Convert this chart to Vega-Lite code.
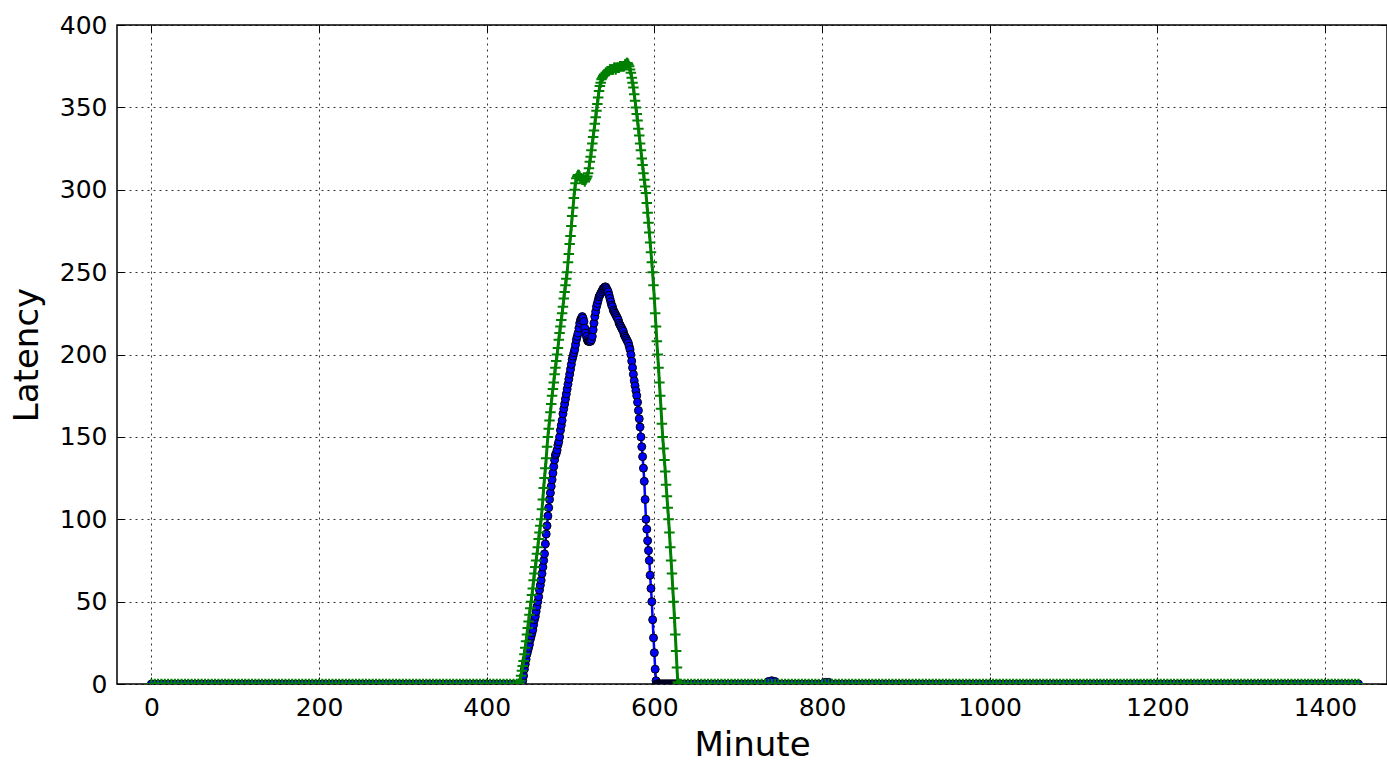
{
"$schema": "https://vega.github.io/schema/vega-lite/v6.json",
"width": 1270, "height": 659,
"autosize": {"type": "none"},
"padding": {"left": 117, "top": 25, "right": 0, "bottom": 78},
"background": "white",
"config": {
  "view": {"stroke": "black", "strokeWidth": 1.5},
  "axis": {"domain": false, "tickColor": "black", "tickSize": -7, "tickWidth": 1, "labelFont": "DejaVu Sans", "labelFontSize": 25, "labelColor": "black", "titleFont": "DejaVu Sans", "titleFontSize": 34, "titleFontWeight": "normal", "titleColor": "black", "gridColor": "black", "gridDash": [2, 4], "gridOpacity": 0.8, "gridWidth": 1, "labelOverlap": false, "labelFlush": false}
},
"data": {"values": [
{"m":0,"g":0,"b":0},{"m":4,"g":0,"b":0},{"m":8,"g":0,"b":0},{"m":12,"g":0,"b":0},{"m":16,"g":0,"b":0},{"m":20,"g":0,"b":0},{"m":24,"g":0,"b":0},{"m":28,"g":0,"b":0},{"m":32,"g":0,"b":0},{"m":36,"g":0,"b":0},
{"m":40,"g":0,"b":0},{"m":44,"g":0,"b":0},{"m":48,"g":0,"b":0},{"m":52,"g":0,"b":0},{"m":56,"g":0,"b":0},{"m":60,"g":0,"b":0},{"m":64,"g":0,"b":0},{"m":68,"g":0,"b":0},{"m":72,"g":0,"b":0},{"m":76,"g":0,"b":0},
{"m":80,"g":0,"b":0},{"m":84,"g":0,"b":0},{"m":88,"g":0,"b":0},{"m":92,"g":0,"b":0},{"m":96,"g":0,"b":0},{"m":100,"g":0,"b":0},{"m":104,"g":0,"b":0},{"m":108,"g":0,"b":0},{"m":112,"g":0,"b":0},{"m":116,"g":0,"b":0},
{"m":120,"g":0,"b":0},{"m":124,"g":0,"b":0},{"m":128,"g":0,"b":0},{"m":132,"g":0,"b":0},{"m":136,"g":0,"b":0},{"m":140,"g":0,"b":0},{"m":144,"g":0,"b":0},{"m":148,"g":0,"b":0},{"m":152,"g":0,"b":0},{"m":156,"g":0,"b":0},
{"m":160,"g":0,"b":0},{"m":164,"g":0,"b":0},{"m":168,"g":0,"b":0},{"m":172,"g":0,"b":0},{"m":176,"g":0,"b":0},{"m":180,"g":0,"b":0},{"m":184,"g":0,"b":0},{"m":188,"g":0,"b":0},{"m":192,"g":0,"b":0},{"m":196,"g":0,"b":0},
{"m":200,"g":0,"b":0},{"m":204,"g":0,"b":0},{"m":208,"g":0,"b":0},{"m":212,"g":0,"b":0},{"m":216,"g":0,"b":0},{"m":220,"g":0,"b":0},{"m":224,"g":0,"b":0},{"m":228,"g":0,"b":0},{"m":232,"g":0,"b":0},{"m":236,"g":0,"b":0},
{"m":240,"g":0,"b":0},{"m":244,"g":0,"b":0},{"m":248,"g":0,"b":0},{"m":252,"g":0,"b":0},{"m":256,"g":0,"b":0},{"m":260,"g":0,"b":0},{"m":264,"g":0,"b":0},{"m":268,"g":0,"b":0},{"m":272,"g":0,"b":0},{"m":276,"g":0,"b":0},
{"m":280,"g":0,"b":0},{"m":284,"g":0,"b":0},{"m":288,"g":0,"b":0},{"m":292,"g":0,"b":0},{"m":296,"g":0,"b":0},{"m":300,"g":0,"b":0},{"m":304,"g":0,"b":0},{"m":308,"g":0,"b":0},{"m":312,"g":0,"b":0},{"m":316,"g":0,"b":0},
{"m":320,"g":0,"b":0},{"m":324,"g":0,"b":0},{"m":328,"g":0,"b":0},{"m":332,"g":0,"b":0},{"m":336,"g":0,"b":0},{"m":340,"g":0,"b":0},{"m":344,"g":0,"b":0},{"m":348,"g":0,"b":0},{"m":352,"g":0,"b":0},{"m":356,"g":0,"b":0},
{"m":360,"g":0,"b":0},{"m":364,"g":0,"b":0},{"m":368,"g":0,"b":0},{"m":372,"g":0,"b":0},{"m":376,"g":0,"b":0},{"m":380,"g":0,"b":0},{"m":384,"g":0,"b":0},{"m":388,"g":0,"b":0},{"m":392,"g":0,"b":0},{"m":396,"g":0,"b":0},
{"m":400,"g":0,"b":0},{"m":404,"g":0,"b":0},{"m":408,"g":0,"b":0},{"m":412,"g":0,"b":0},{"m":416,"g":0,"b":0},{"m":420,"g":0,"b":0},{"m":424,"g":0,"b":0},{"m":428,"g":0,"b":0},{"m":432,"g":0,"b":0},{"m":436,"g":0,"b":0},
{"m":438,"g":0,"b":0},{"m":439,"g":0.5,"b":0},{"m":440,"g":2,"b":0},{"m":441,"g":5,"b":0},{"m":442,"g":8,"b":1},{"m":443,"g":11,"b":2},{"m":444,"g":14,"b":5},{"m":445,"g":18,"b":9},{"m":446,"g":22,"b":12},{"m":447,"g":26,"b":15},
{"m":448,"g":30,"b":18},{"m":449,"g":34,"b":20},{"m":450,"g":38,"b":22},{"m":451,"g":42,"b":24},{"m":452,"g":46,"b":27},{"m":453,"g":50,"b":29},{"m":454,"g":54,"b":31},{"m":455,"g":58,"b":33},{"m":456,"g":63,"b":36},{"m":457,"g":67,"b":39},
{"m":458,"g":71,"b":41},{"m":459,"g":75,"b":44},{"m":460,"g":79,"b":47},{"m":461,"g":83,"b":50},{"m":462,"g":88,"b":53},{"m":463,"g":92,"b":57},{"m":464,"g":96,"b":60},{"m":465,"g":100,"b":63},{"m":466,"g":106,"b":67},{"m":467,"g":112,"b":71},
{"m":468,"g":119,"b":75},{"m":469,"g":125,"b":79},{"m":470,"g":131,"b":85},{"m":471,"g":137,"b":91},{"m":472,"g":144,"b":96},{"m":473,"g":150,"b":102},{"m":474,"g":155,"b":107},{"m":475,"g":160,"b":112},{"m":476,"g":165,"b":116},{"m":477,"g":170,"b":120},
{"m":478,"g":175,"b":124},{"m":479,"g":179,"b":128},{"m":480,"g":183,"b":132},{"m":481,"g":188,"b":136},{"m":482,"g":192,"b":139},{"m":483,"g":196,"b":140},{"m":484,"g":200,"b":142},{"m":485,"g":204,"b":145},{"m":486,"g":209,"b":147},{"m":487,"g":213,"b":150},
{"m":488,"g":217,"b":154},{"m":489,"g":221,"b":157},{"m":490,"g":225,"b":160},{"m":491,"g":229,"b":164},{"m":492,"g":234,"b":167},{"m":493,"g":238,"b":170},{"m":494,"g":242,"b":173},{"m":495,"g":246,"b":176},{"m":496,"g":250,"b":179},{"m":497,"g":256,"b":182},
{"m":498,"g":261,"b":185},{"m":499,"g":267,"b":188},{"m":500,"g":272,"b":191},{"m":501,"g":278,"b":194},{"m":502,"g":284,"b":197},{"m":503,"g":289,"b":199},{"m":504,"g":295,"b":201},{"m":505,"g":300,"b":203},{"m":506,"g":304,"b":206},{"m":507,"g":307,"b":209},
{"m":508,"g":308,"b":211},{"m":509,"g":309,"b":213},{"m":510,"g":309,"b":216},{"m":511,"g":308,"b":219},{"m":512,"g":307,"b":221},{"m":513,"g":307,"b":222},{"m":514,"g":306,"b":223},{"m":515,"g":306,"b":222},{"m":516,"g":306,"b":220},{"m":517,"g":305,"b":216},
{"m":518,"g":306,"b":213},{"m":519,"g":307,"b":211},{"m":520,"g":308,"b":209},{"m":521,"g":310,"b":208},{"m":522,"g":313,"b":208},{"m":523,"g":317,"b":208},{"m":524,"g":320,"b":208},{"m":525,"g":324,"b":209},{"m":526,"g":328,"b":211},{"m":527,"g":332,"b":215},
{"m":528,"g":336,"b":219},{"m":529,"g":340,"b":223},{"m":530,"g":344,"b":226},{"m":531,"g":348,"b":229},{"m":532,"g":352,"b":231},{"m":533,"g":356,"b":233},{"m":534,"g":360,"b":235},{"m":535,"g":363,"b":236},{"m":536,"g":365,"b":237},{"m":537,"g":367,"b":238},
{"m":538,"g":368,"b":239},{"m":539,"g":369,"b":240},{"m":540,"g":370,"b":240},{"m":541,"g":370,"b":241},{"m":542,"g":371,"b":241},{"m":543,"g":371,"b":240},{"m":544,"g":372,"b":239},{"m":545,"g":372,"b":238},{"m":546,"g":372,"b":236},{"m":547,"g":373,"b":234},
{"m":548,"g":373,"b":232},{"m":549,"g":373,"b":230},{"m":550,"g":373,"b":229},{"m":551,"g":373,"b":227},{"m":552,"g":374,"b":226},{"m":553,"g":374,"b":225},{"m":554,"g":373,"b":224},{"m":555,"g":374,"b":223},{"m":556,"g":374,"b":222},{"m":557,"g":374,"b":221},
{"m":558,"g":374,"b":219},{"m":559,"g":375,"b":218},{"m":560,"g":375,"b":217},{"m":561,"g":375,"b":216},{"m":562,"g":375,"b":215},{"m":563,"g":375,"b":214},{"m":564,"g":375,"b":212},{"m":565,"g":376,"b":211},{"m":566,"g":376,"b":210},{"m":567,"g":377,"b":209},
{"m":568,"g":377,"b":208},{"m":569,"g":376,"b":207},{"m":570,"g":375,"b":205},{"m":571,"g":373,"b":203},{"m":572,"g":371,"b":200},{"m":573,"g":368,"b":196},{"m":574,"g":365,"b":192},{"m":575,"g":362,"b":188},{"m":576,"g":358,"b":184},{"m":577,"g":354,"b":181},
{"m":578,"g":350,"b":178},{"m":579,"g":346,"b":175},{"m":580,"g":342,"b":171},{"m":581,"g":337,"b":166},{"m":582,"g":333,"b":161},{"m":583,"g":328,"b":156},{"m":584,"g":324,"b":150},{"m":585,"g":319,"b":144},{"m":586,"g":315,"b":138},{"m":587,"g":310,"b":131},
{"m":588,"g":306,"b":123},{"m":589,"g":302,"b":112},{"m":590,"g":298,"b":100},{"m":591,"g":292,"b":94},{"m":592,"g":286,"b":87},{"m":593,"g":280,"b":81},{"m":594,"g":274,"b":75},{"m":595,"g":268,"b":66},{"m":596,"g":262,"b":58},{"m":597,"g":256,"b":50},
{"m":598,"g":250,"b":39},{"m":599,"g":242,"b":28},{"m":600,"g":234,"b":19},{"m":601,"g":225,"b":9},{"m":602,"g":217,"b":2},{"m":603,"g":208,"b":0},{"m":604,"g":200,"b":0},{"m":605,"g":192,"b":0},{"m":606,"g":183,"b":0},{"m":607,"g":175,"b":0},
{"m":608,"g":167,"b":0},{"m":609,"g":158,"b":0},{"m":610,"g":150,"b":0},{"m":611,"g":143,"b":0},{"m":612,"g":136,"b":0},{"m":613,"g":129,"b":0},{"m":614,"g":121,"b":0},{"m":615,"g":114,"b":0},{"m":616,"g":107,"b":0},{"m":617,"g":100,"b":0},
{"m":618,"g":92,"b":0},{"m":619,"g":83,"b":0},{"m":620,"g":75,"b":0},{"m":621,"g":67,"b":0},{"m":622,"g":58,"b":0},{"m":623,"g":50,"b":0},{"m":624,"g":40,"b":0},{"m":625,"g":30,"b":0},{"m":626,"g":20,"b":0},{"m":627,"g":10,"b":0},
{"m":628,"g":1,"b":0},{"m":629,"g":0,"b":0},{"m":630,"g":0,"b":0},
{"m":632,"g":0,"b":0},{"m":636,"g":0,"b":0},{"m":640,"g":0,"b":0},{"m":644,"g":0,"b":0},{"m":648,"g":0,"b":0},{"m":652,"g":0,"b":0},{"m":656,"g":0,"b":0},{"m":660,"g":0,"b":0},{"m":664,"g":0,"b":0},{"m":668,"g":0,"b":0},
{"m":672,"g":0,"b":0},{"m":676,"g":0,"b":0},{"m":680,"g":0,"b":0},{"m":684,"g":0,"b":0},{"m":688,"g":0,"b":0},{"m":692,"g":0,"b":0},{"m":696,"g":0,"b":0},{"m":700,"g":0,"b":0},{"m":704,"g":0,"b":0},{"m":708,"g":0,"b":0},
{"m":712,"g":0,"b":0},{"m":716,"g":0,"b":0},{"m":720,"g":0,"b":0},{"m":724,"g":0,"b":0},{"m":728,"g":0,"b":0},{"m":732,"g":0,"b":0},{"m":736,"g":0,"b":1.5},{"m":740,"g":0,"b":2},{"m":744,"g":0,"b":1.5},{"m":748,"g":0,"b":0},
{"m":752,"g":0,"b":0},{"m":756,"g":0,"b":0},{"m":760,"g":0,"b":0},{"m":764,"g":0,"b":0},{"m":768,"g":0,"b":0},{"m":772,"g":0,"b":0},{"m":776,"g":0,"b":0},{"m":780,"g":0,"b":0},{"m":784,"g":0,"b":0},{"m":788,"g":0,"b":0},
{"m":792,"g":0,"b":0},{"m":796,"g":0,"b":0},{"m":800,"g":0,"b":0},{"m":804,"g":0,"b":1},{"m":808,"g":0,"b":1},{"m":812,"g":0,"b":0},{"m":816,"g":0,"b":0},{"m":820,"g":0,"b":0},{"m":824,"g":0,"b":0},{"m":828,"g":0,"b":0},
{"m":832,"g":0,"b":0},{"m":836,"g":0,"b":0},{"m":840,"g":0,"b":0},{"m":844,"g":0,"b":0},{"m":848,"g":0,"b":0},{"m":852,"g":0,"b":0},{"m":856,"g":0,"b":0},{"m":860,"g":0,"b":0},{"m":864,"g":0,"b":0},{"m":868,"g":0,"b":0},
{"m":872,"g":0,"b":0},{"m":876,"g":0,"b":0},{"m":880,"g":0,"b":0},{"m":884,"g":0,"b":0},{"m":888,"g":0,"b":0},{"m":892,"g":0,"b":0},{"m":896,"g":0,"b":0},{"m":900,"g":0,"b":0},{"m":904,"g":0,"b":0},{"m":908,"g":0,"b":0},
{"m":912,"g":0,"b":0},{"m":916,"g":0,"b":0},{"m":920,"g":0,"b":0},{"m":924,"g":0,"b":0},{"m":928,"g":0,"b":0},{"m":932,"g":0,"b":0},{"m":936,"g":0,"b":0},{"m":940,"g":0,"b":0},{"m":944,"g":0,"b":0},{"m":948,"g":0,"b":0},
{"m":952,"g":0,"b":0},{"m":956,"g":0,"b":0},{"m":960,"g":0,"b":0},{"m":964,"g":0,"b":0},{"m":968,"g":0,"b":0},{"m":972,"g":0,"b":0},{"m":976,"g":0,"b":0},{"m":980,"g":0,"b":0},{"m":984,"g":0,"b":0},{"m":988,"g":0,"b":0},
{"m":992,"g":0,"b":0},{"m":996,"g":0,"b":0},{"m":1000,"g":0,"b":0},{"m":1004,"g":0,"b":0},{"m":1008,"g":0,"b":0},{"m":1012,"g":0,"b":0},{"m":1016,"g":0,"b":0},{"m":1020,"g":0,"b":0},{"m":1024,"g":0,"b":0},{"m":1028,"g":0,"b":0},
{"m":1032,"g":0,"b":0},{"m":1036,"g":0,"b":0},{"m":1040,"g":0,"b":0},{"m":1044,"g":0,"b":0},{"m":1048,"g":0,"b":0},{"m":1052,"g":0,"b":0},{"m":1056,"g":0,"b":0},{"m":1060,"g":0,"b":0},{"m":1064,"g":0,"b":0},{"m":1068,"g":0,"b":0},
{"m":1072,"g":0,"b":0},{"m":1076,"g":0,"b":0},{"m":1080,"g":0,"b":0},{"m":1084,"g":0,"b":0},{"m":1088,"g":0,"b":0},{"m":1092,"g":0,"b":0},{"m":1096,"g":0,"b":0},{"m":1100,"g":0,"b":0},{"m":1104,"g":0,"b":0},{"m":1108,"g":0,"b":0},
{"m":1112,"g":0,"b":0},{"m":1116,"g":0,"b":0},{"m":1120,"g":0,"b":0},{"m":1124,"g":0,"b":0},{"m":1128,"g":0,"b":0},{"m":1132,"g":0,"b":0},{"m":1136,"g":0,"b":0},{"m":1140,"g":0,"b":0},{"m":1144,"g":0,"b":0},{"m":1148,"g":0,"b":0},
{"m":1152,"g":0,"b":0},{"m":1156,"g":0,"b":0},{"m":1160,"g":0,"b":0},{"m":1164,"g":0,"b":0},{"m":1168,"g":0,"b":0},{"m":1172,"g":0,"b":0},{"m":1176,"g":0,"b":0},{"m":1180,"g":0,"b":0},{"m":1184,"g":0,"b":0},{"m":1188,"g":0,"b":0},
{"m":1192,"g":0,"b":0},{"m":1196,"g":0,"b":0},{"m":1200,"g":0,"b":0},{"m":1204,"g":0,"b":0},{"m":1208,"g":0,"b":0},{"m":1212,"g":0,"b":0},{"m":1216,"g":0,"b":0},{"m":1220,"g":0,"b":0},{"m":1224,"g":0,"b":0},{"m":1228,"g":0,"b":0},
{"m":1232,"g":0,"b":0},{"m":1236,"g":0,"b":0},{"m":1240,"g":0,"b":0},{"m":1244,"g":0,"b":0},{"m":1248,"g":0,"b":0},{"m":1252,"g":0,"b":0},{"m":1256,"g":0,"b":0},{"m":1260,"g":0,"b":0},{"m":1264,"g":0,"b":0},{"m":1268,"g":0,"b":0},
{"m":1272,"g":0,"b":0},{"m":1276,"g":0,"b":0},{"m":1280,"g":0,"b":0},{"m":1284,"g":0,"b":0},{"m":1288,"g":0,"b":0},{"m":1292,"g":0,"b":0},{"m":1296,"g":0,"b":0},{"m":1300,"g":0,"b":0},{"m":1304,"g":0,"b":0},{"m":1308,"g":0,"b":0},
{"m":1312,"g":0,"b":0},{"m":1316,"g":0,"b":0},{"m":1320,"g":0,"b":0},{"m":1324,"g":0,"b":0},{"m":1328,"g":0,"b":0},{"m":1332,"g":0,"b":0},{"m":1336,"g":0,"b":0},{"m":1340,"g":0,"b":0},{"m":1344,"g":0,"b":0},{"m":1348,"g":0,"b":0},
{"m":1352,"g":0,"b":0},{"m":1356,"g":0,"b":0},{"m":1360,"g":0,"b":0},{"m":1364,"g":0,"b":0},{"m":1368,"g":0,"b":0},{"m":1372,"g":0,"b":0},{"m":1376,"g":0,"b":0},{"m":1380,"g":0,"b":0},{"m":1384,"g":0,"b":0},{"m":1388,"g":0,"b":0},
{"m":1392,"g":0,"b":0},{"m":1396,"g":0,"b":0},{"m":1400,"g":0,"b":0},{"m":1404,"g":0,"b":0},{"m":1408,"g":0,"b":0},{"m":1412,"g":0,"b":0},{"m":1416,"g":0,"b":0},{"m":1420,"g":0,"b":0},{"m":1424,"g":0,"b":0},{"m":1428,"g":0,"b":0},
{"m":1432,"g":0,"b":0},{"m":1436,"g":0,"b":0},{"m":1440,"g":0,"b":0}
]},
"resolve": {"axis": {"x": "independent", "y": "independent"}},
"layer": [
  {"mark": {"type": "line", "color": "#0000ff", "strokeWidth": 2.5, "clip": true},
   "encoding": {
     "x": {"field": "m", "type": "quantitative", "scale": {"domain": [-41, 1474], "nice": false, "zero": false},
           "axis": {"orient": "bottom", "values": [0,200,400,600,800,1000,1200,1400], "format": "d", "grid": true, "labelPadding": 18, "labelBaseline": "top", "title": "Minute", "titlePadding": 8}},
     "y": {"field": "b", "type": "quantitative", "scale": {"domain": [0, 400], "nice": false},
           "axis": {"orient": "left", "values": [0,50,100,150,200,250,300,350,400], "format": "d", "grid": true, "labelPadding": 17, "title": "Latency", "titlePadding": 15}}
   }},
  {"mark": {"type": "point", "shape": "circle", "filled": true, "fill": "#0000ff", "stroke": "black", "strokeWidth": 1, "size": 64, "opacity": 1, "clip": true},
   "encoding": {
     "x": {"field": "m", "type": "quantitative", "axis": null},
     "y": {"field": "b", "type": "quantitative", "axis": null}
   }},
  {"mark": {"type": "line", "color": "#008000", "strokeWidth": 3, "clip": true},
   "encoding": {
     "x": {"field": "m", "type": "quantitative", "axis": null},
     "y": {"field": "g", "type": "quantitative", "axis": null}
   }},
  {"mark": {"type": "point", "shape": "M-1,0L1,0M0,-1L0,1", "filled": false, "stroke": "#008000", "strokeWidth": 2, "size": 110, "opacity": 1, "clip": true},
   "encoding": {
     "x": {"field": "m", "type": "quantitative",
           "axis": {"orient": "top", "values": [0,200,400,600,800,1000,1200,1400], "labels": false, "grid": false, "title": null}},
     "y": {"field": "g", "type": "quantitative",
           "axis": {"orient": "right", "values": [0,50,100,150,200,250,300,350,400], "labels": false, "grid": false, "title": null}}
   }}
]
}
